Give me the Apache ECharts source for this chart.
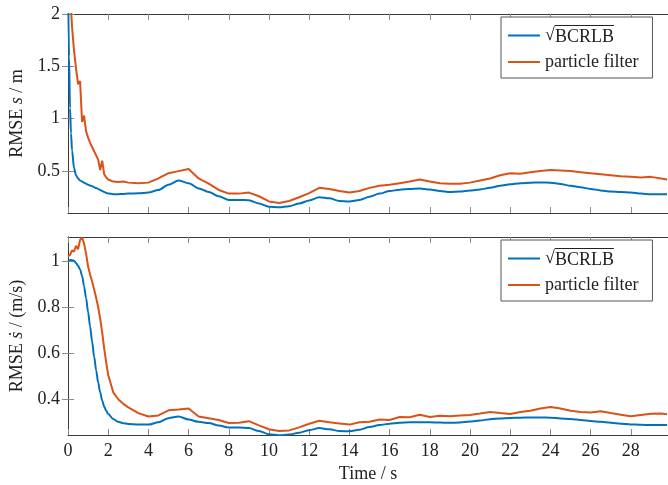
<!DOCTYPE html>
<html><head><meta charset="utf-8">
<script src="https://cdn.jsdelivr.net/npm/echarts@6/dist/echarts.min.js"></script>
<style>html,body{margin:0;padding:0;background:#fff}#c{width:668px;height:485px}</style>
</head><body><div id="c"></div><script>
const timeS = [0,0.05,0.1,0.15,0.2,0.3,0.4,0.5,0.6,0.7,0.8,0.9,1.0,1.1,1.2,1.3,1.4,1.5,1.6,1.7,1.8,1.9,2.0,2.25,2.5,2.75,3,3.5,4,4.5,5,5.5,6,6.5,7,7.5,8,8.5,9,9.5,10,10.5,11,11.5,12,12.5,13,13.5,14,14.5,15,15.5,16,16.5,17,17.5,18,18.5,19,19.5,20,20.5,21,21.5,22,22.5,23,23.5,24,24.5,25,25.5,26,26.5,27,27.5,28,28.5,29,29.5,29.8];
const bcrlbPos = [2.4,1.6,1.1,0.86,0.70,0.53,0.46,0.43,0.41,0.40,0.39,0.38,0.37,0.362,0.355,0.347,0.338,0.33,0.32,0.31,0.30,0.292,0.286,0.28,0.28,0.282,0.285,0.288,0.295,0.32,0.37,0.41,0.385,0.335,0.30,0.26,0.225,0.225,0.222,0.19,0.16,0.155,0.165,0.19,0.22,0.25,0.24,0.215,0.21,0.225,0.255,0.285,0.31,0.322,0.33,0.335,0.325,0.31,0.30,0.305,0.315,0.325,0.34,0.36,0.375,0.385,0.39,0.392,0.39,0.377,0.36,0.345,0.33,0.316,0.305,0.30,0.295,0.285,0.28,0.28,0.28];
const pfPos = [3.0,2.6,2.3,2.05,1.88,1.65,1.48,1.33,1.36,0.97,1.03,0.88,0.82,0.77,0.73,0.69,0.65,0.61,0.51,0.60,0.47,0.44,0.42,0.40,0.395,0.40,0.39,0.385,0.39,0.43,0.48,0.50,0.52,0.43,0.38,0.32,0.285,0.285,0.295,0.26,0.21,0.195,0.215,0.25,0.29,0.34,0.33,0.31,0.295,0.31,0.34,0.36,0.37,0.385,0.40,0.42,0.40,0.385,0.38,0.38,0.39,0.41,0.43,0.46,0.48,0.475,0.49,0.50,0.51,0.505,0.50,0.49,0.48,0.47,0.46,0.45,0.445,0.44,0.445,0.43,0.42];
const bcrlbVel = [1.0,1.002,1.003,1.003,1.002,1.0,0.99,0.978,0.962,0.935,0.89,0.838,0.778,0.715,0.65,0.585,0.525,0.473,0.43,0.395,0.368,0.35,0.336,0.314,0.302,0.296,0.293,0.29,0.29,0.30,0.318,0.325,0.312,0.302,0.297,0.286,0.277,0.277,0.275,0.262,0.248,0.244,0.247,0.255,0.266,0.275,0.27,0.262,0.261,0.268,0.28,0.288,0.294,0.298,0.30,0.30,0.30,0.299,0.298,0.299,0.303,0.308,0.313,0.317,0.319,0.32,0.321,0.321,0.32,0.317,0.314,0.31,0.306,0.302,0.298,0.294,0.291,0.289,0.288,0.288,0.288];
const pfVel = [1.02,1.018,1.025,1.03,1.045,1.04,1.065,1.05,1.09,1.10,1.075,1.03,0.975,0.94,0.91,0.875,0.84,0.80,0.75,0.69,0.62,0.56,0.505,0.43,0.40,0.38,0.365,0.34,0.325,0.33,0.352,0.355,0.36,0.325,0.318,0.31,0.297,0.298,0.305,0.287,0.27,0.262,0.265,0.278,0.294,0.307,0.30,0.295,0.29,0.30,0.302,0.312,0.31,0.323,0.322,0.333,0.323,0.328,0.326,0.33,0.332,0.338,0.345,0.34,0.336,0.345,0.35,0.36,0.366,0.36,0.35,0.345,0.342,0.348,0.34,0.333,0.326,0.332,0.337,0.338,0.335];
const xTicks = [0,2,4,6,8,10,12,14,16,18,20,22,24,26,28];
const yTicksPos = [0.5,1,1.5,2];
const yTicksVel = [0.4,0.6,0.8,1];
const nameBCRLB = 'BCRLB';
const namePF = 'particle filter';

const FONT = 'Liberation Serif';
const axisCol = '#3a3a3a';
const tickCol = '#8a8a8a';
const pairs = (t, v) => t.map((x, i) => [x, v[i]]);

function xAx(grid, pos, labels, ticks){
  return {type:'value', gridIndex:grid, position:pos, min:0, max:29.85,
    axisLine:{show:true, lineStyle:{color:axisCol, width:1}},
    axisTick:{show:true, inside:true, length:6, customValues:ticks, lineStyle:{color:tickCol}},
    axisLabel:{show:labels, customValues:ticks, margin:7, color:'#222', fontFamily:FONT, fontSize:18},
    splitLine:{show:false}};
}
function yAx(grid, pos, labels, ticks, mn, mx){
  return {type:'value', gridIndex:grid, position:pos, min:mn, max:mx,
    axisLine:{show:true, lineStyle:{color:axisCol, width:1}},
    axisTick:{show:true, inside:true, length:6, customValues:ticks, lineStyle:{color:tickCol}},
    axisLabel:{show:labels, customValues:ticks, margin:8, color:'#222', fontFamily:FONT, fontSize:18},
    splitLine:{show:false}};
}
const yL0 = yAx(0,'left',true,yTicksPos,0.1,2);
yL0.name = 'RMSE {i|s} / m';
const yL1 = yAx(1,'left',true,yTicksVel,0.245,1.103);
yL1.name = 'RMSE {i|\u1E61} / (m/s)';
[yL0, yL1].forEach(a => {
  a.nameLocation = 'middle'; a.nameGap = 41; a.nameRotate = 90;
  a.nameTextStyle = {fontFamily:FONT, fontSize:18, color:'#222', rich:{i:{fontFamily:FONT, fontSize:18, fontStyle:'italic', color:'#222'}}};
});
const xB1 = xAx(1,'bottom',true,xTicks);
xB1.name = 'Time / s'; xB1.nameLocation = 'middle'; xB1.nameGap = 30;
xB1.nameTextStyle = {fontFamily:FONT, fontSize:18, color:'#222'};

const overline = new echarts.graphic.LinearGradient(0, 0, 0, 1, [
  {offset:0, color:'#222'}, {offset:0.07, color:'#222'}, {offset:0.071, color:'rgba(255,255,255,0)'}, {offset:1, color:'rgba(255,255,255,0)'}]);
const legendBase = {orient:'vertical', left:501, padding:[8,14,7,7], itemGap:7, itemWidth:32, itemHeight:2,
  icon:'rect',
  borderColor:'#555', borderWidth:1, backgroundColor:'#fff',
  formatter: n => n === nameBCRLB ? '{r|\u221A}{o|' + n + '}' : n,
  textStyle:{fontFamily:FONT, fontSize:18, color:'#222',
    rich:{r:{fontFamily:FONT, fontSize:18, color:'#222'},
          o:{fontFamily:FONT, fontSize:18, color:'#222', backgroundColor:overline, padding:[3,0,0,0]}}},
  data:[nameBCRLB, namePF]};

const line = (name, col, data, xi, yi, smooth) => ({
  type:'line', name, data, xAxisIndex:xi, yAxisIndex:yi, showSymbol:false, symbol:'none',
  smooth: smooth ? 0.3 : false, smoothMonotone: smooth ? 'x' : undefined,
  lineStyle:{color:col, width:2}, itemStyle:{color:col}, clip:true, animation:false, z:3});

const BLUE = '#0072BD', ORANGE = '#D95319';
const chart = echarts.init(document.getElementById('c'), null, {renderer:'canvas'});
chart.setOption({
  animation:false,
  backgroundColor:'#fff',
  grid:[{left:68, right:0, top:14, height:199}, {left:68, right:0, top:237, height:198}],
  xAxis:[xAx(0,'bottom',false,xTicks), xAx(0,'top',false,xTicks), xB1, xAx(1,'top',false,xTicks)],
  yAxis:[yL0, yAx(0,'right',false,yTicksPos,0.1,2), yL1, yAx(1,'right',false,yTicksVel,0.245,1.103)],
  legend:[Object.assign({}, legendBase, {top:17}), Object.assign({}, legendBase, {top:240})],
  series:[
    line(nameBCRLB, BLUE, pairs(timeS, bcrlbPos), 0, 0, true),
    line(namePF, ORANGE, pairs(timeS, pfPos), 0, 0, false),
    line(nameBCRLB, BLUE, pairs(timeS, bcrlbVel), 2, 2, true),
    line(namePF, ORANGE, pairs(timeS, pfVel), 2, 2, false)
  ]
});
</script></body></html>
